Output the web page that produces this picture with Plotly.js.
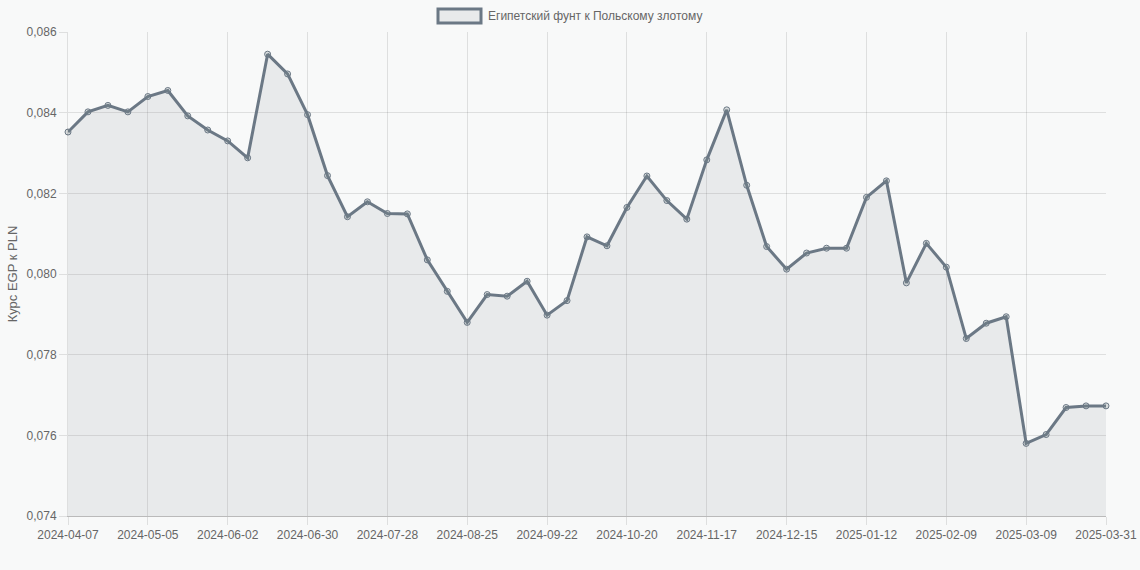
<!DOCTYPE html>
<html lang="ru">
<head>
<meta charset="utf-8">
<title>EGP/PLN</title>
<script src="https://cdn.plot.ly/plotly-3.0.1.min.js"></script>
<style>
  html, body { margin: 0; padding: 0; background: #f8f9f9; }
  #chart { width: 1140px; height: 570px; }
</style>
</head>
<body>
<div id="chart"></div>
<script>
// weekly dates, the last point is the end of the period
var dates = [
  "2024-04-07","2024-04-14","2024-04-21","2024-04-28","2024-05-05","2024-05-12","2024-05-19","2024-05-26",
  "2024-06-02","2024-06-09","2024-06-16","2024-06-23","2024-06-30","2024-07-07","2024-07-14","2024-07-21",
  "2024-07-28","2024-08-04","2024-08-11","2024-08-18","2024-08-25","2024-09-01","2024-09-08","2024-09-15",
  "2024-09-22","2024-09-29","2024-10-06","2024-10-13","2024-10-20","2024-10-27","2024-11-03","2024-11-10",
  "2024-11-17","2024-11-24","2024-12-01","2024-12-08","2024-12-15","2024-12-22","2024-12-29","2025-01-05",
  "2025-01-12","2025-01-19","2025-01-26","2025-02-02","2025-02-09","2025-02-16","2025-02-23","2025-03-02",
  "2025-03-09","2025-03-16","2025-03-23","2025-03-30","2025-03-31"
];
var rates = [
  0.08352, 0.08402, 0.08418, 0.08402, 0.08440, 0.08455, 0.08392, 0.08357,
  0.08330, 0.08288, 0.08545, 0.08496, 0.08395, 0.08244, 0.08142, 0.08179,
  0.08150, 0.08149, 0.08035, 0.07957, 0.07880, 0.07949, 0.07945, 0.07982,
  0.07898, 0.07934, 0.08092, 0.08070, 0.08165, 0.08243, 0.08182, 0.08136,
  0.08283, 0.08407, 0.08220, 0.08068, 0.08012, 0.08052, 0.08064, 0.08064,
  0.08190, 0.08231, 0.07978, 0.08076, 0.08017, 0.07840, 0.07878, 0.07894,
  0.07580, 0.07602, 0.07669, 0.07673, 0.07673
];
var tickDates = [
  "2024-04-07","2024-05-05","2024-06-02","2024-06-30","2024-07-28","2024-08-25","2024-09-22",
  "2024-10-20","2024-11-17","2024-12-15","2025-01-12","2025-02-09","2025-03-09","2025-03-31"
];
var seriesName = "Египетский фунт к Польскому злотому";
var yLabel = "Курс EGP к PLN";

var lineColor = "#6b7885";
var font = "Liberation Sans, Arial, sans-serif";

var trace = {
  x: dates,
  y: rates,
  type: "scatter",
  mode: "lines+markers",
  name: seriesName,
  fill: "tozeroy",
  fillcolor: "rgba(120,135,140,0.12)",
  cliponaxis: false,
  line: { color: lineColor, width: 3 },
  marker: { size: 6, color: "rgba(120,135,140,0.25)", line: { color: lineColor, width: 1 } },
  hoverinfo: "x+y"
};

var layout = {
  width: 1140,
  height: 570,
  paper_bgcolor: "#f8f9f9",
  plot_bgcolor: "#f8f9f9",
  margin: { l: 68, r: 34, t: 32, b: 54 },
  separators: ", ",
  showlegend: false,
  font: { family: font, size: 12, color: "#666" },
  xaxis: {
    type: "category",
    range: [0, dates.length - 1],
    tickvals: tickDates,
    ticktext: tickDates,
    ticks: "outside",
    ticklen: 8,
    tickcolor: "rgba(0,0,0,0.1)",
    showgrid: true,
    gridcolor: "rgba(0,0,0,0.1)",
    showline: true,
    linecolor: "rgba(0,0,0,0.25)",
    zeroline: false,
    tickfont: { size: 12, color: "#666" },
    fixedrange: true
  },
  yaxis: {
    range: [0.074, 0.086],
    dtick: 0.002,
    tickformat: ".3f",
    ticks: "outside",
    ticklen: 8,
    tickcolor: "rgba(0,0,0,0.1)",
    showgrid: true,
    gridcolor: "rgba(0,0,0,0.1)",
    showline: true,
    linecolor: "rgba(0,0,0,0.1)",
    zeroline: false,
    tickfont: { size: 12, color: "#666" },
    title: { text: yLabel, font: { size: 13, color: "#666" }, standoff: 6 },
    fixedrange: true
  },
  shapes: [
    {
      type: "rect", xref: "paper", yref: "paper",
      x0: (438 - 68) / 1038, x1: (481 - 68) / 1038,
      y0: 1 + (32 - 23) / 484, y1: 1 + (32 - 9) / 484,
      fillcolor: "rgba(120,135,140,0.12)",
      line: { color: lineColor, width: 3 }
    }
  ],
  annotations: [
    {
      xref: "paper", yref: "paper",
      x: (486 - 68) / 1038, y: 1 + (32 - 16) / 484,
      xanchor: "left", yanchor: "middle",
      text: seriesName,
      showarrow: false,
      font: { size: 12, color: "#666" }
    }
  ]
};

Plotly.newPlot("chart", [trace], layout, { displayModeBar: false, staticPlot: true });
</script>
</body>
</html>
